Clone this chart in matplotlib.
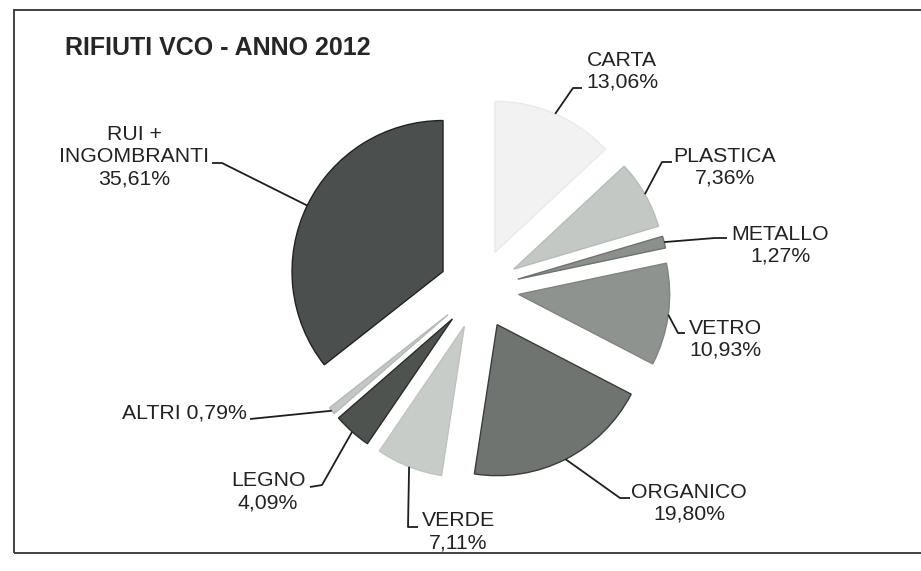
import numpy as np
import matplotlib
matplotlib.use('Agg')
import matplotlib.pyplot as plt
from matplotlib.patches import Rectangle

# data
categories = ['CARTA', 'PLASTICA', 'METALLO', 'VETRO', 'ORGANICO',
              'VERDE', 'LEGNO', 'ALTRI', 'RUI +\nINGOMBRANTI']
values = [13.06, 7.36, 1.27, 10.93, 19.80, 7.11, 4.09, 0.79, 35.61]
pct_labels = ['13,06%', '7,36%', '1,27%', '10,93%', '19,80%',
              '7,11%', '4,09%', '0,79%', '35,61%']
colors = ['#f1f2f1', '#c4c8c5', '#8b908d', '#8e9390', '#6f7471',
          '#c8ccc9', '#4e5350', '#c3c7c5', '#4b4f4d']
edges = ['#e9eae9', '#b8bcb9', '#6f7370', '#7f8481', '#3a3d3b',
         '#bfc3c0', '#2a2c2b', '#b5b9b7', '#222222']

W, H = 921, 571
R = 151          # pie radius in px
EXPL = 40        # explode offset in px
cx, cy = 479, 289

# label layout, image px (x, y from top)
text_pos = [(622, 71), (725, 167), (780, 245), (725, 339), (689, 503),
            (458, 532), (268, 492), (184, 413), (134, 157)]
elbows = [[(573, 88), (582, 88)],
          [(662, 162), (672, 162)],
          [(715, 238), (727, 238)],
          [(678, 333), (685, 333)],
          [(620, 498), (630, 498)],
          [(408, 527), (418, 527)],
          [(322, 485), (310, 487)],
          [(250, 419)],
          [(222, 163), (212, 163)]]


def fy(y):
    return H - y


fig = plt.figure(figsize=(W / 100, H / 100), dpi=100)
ax = fig.add_axes([0, 0, 1, 1])

wedges, _ = ax.pie(values, radius=R, center=(cx, fy(cy)), startangle=90,
                   counterclock=False, explode=[EXPL] * len(values),
                   colors=colors, frame=True)
ax.set_xlim(0, W)
ax.set_ylim(0, H)
ax.set_aspect('equal')
ax.axis('off')

for w, ec in zip(wedges, edges):
    w.set_edgecolor(ec)
    w.set_linewidth(1.0)

for i, w in enumerate(wedges):
    mid = np.deg2rad((w.theta1 + w.theta2) / 2)
    ax0 = w.center[0] + w.r * np.cos(mid)
    ay0 = w.center[1] + w.r * np.sin(mid)
    xs = [ax0] + [p[0] for p in elbows[i]]
    ys = [ay0] + [fy(p[1]) for p in elbows[i]]
    ax.plot(xs, ys, color='#1e1e1e', lw=1.3, solid_capstyle='butt')
    if categories[i] == 'ALTRI':
        txt = categories[i] + ' ' + pct_labels[i]
    else:
        txt = categories[i] + '\n' + pct_labels[i]
    tx, ty = text_pos[i]
    ax.text(tx, fy(ty), txt, ha='center', va='center', fontsize=15.3,
            family='Liberation Sans', color='#222222', linespacing=1.2)

ax.text(65, fy(48), 'RIFIUTI VCO - ANNO 2012', ha='left', va='center',
        fontsize=18, fontweight='bold', family='Liberation Sans',
        color='#262626')

fig.patches.append(Rectangle((14 / W, (H - 553) / H), 1.0, (553 - 10) / H,
                             transform=fig.transFigure, fill=False,
                             edgecolor='#333333', lw=1.3))

fig.savefig('out.png', dpi=100)
